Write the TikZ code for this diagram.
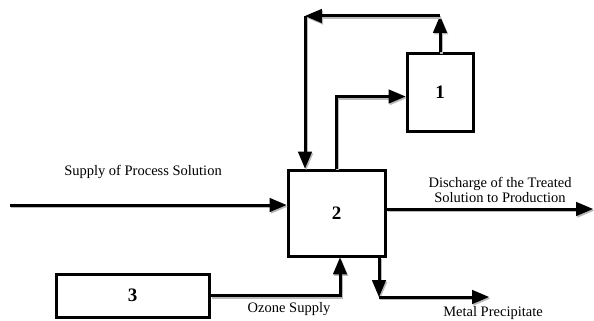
\documentclass[tikz,border=0pt]{standalone}
\usepackage{fontspec}
\setmainfont{Liberation Serif}
\usetikzlibrary{arrows,calc}

\begin{document}
\begin{tikzpicture}[x=1pt,y=-1pt,line width=3pt]

  \tikzstyle{unitnode}=[draw=black,shape=rectangle,font=\bfseries\fontsize{19}{21}\selectfont]
  \tikzstyle{flow}=[-triangle 45,preaction={draw=gray!55,transform canvas={xshift=1.2pt,yshift=-1.6pt}}]
  \tikzstyle{lbl}=[font=\fontsize{14.5}{16}\selectfont,align=center]

  \useasboundingbox (0,0) rectangle (594,321);

  \node[unitnode,minimum width=97pt,minimum height=86pt] (reactor) at (336.5,213) {2};
  \node[unitnode,minimum width=66pt,minimum height=77pt] (filter)  at (440,92.5)  {1};
  \node[unitnode,minimum width=153pt,minimum height=43pt] (ozonator) at (132.5,295.5) {3};

  \coordinate (inlet)   at (10,205);
  \coordinate (outlet)  at (593,209);
  \coordinate (topleft) at (305,16);
  \coordinate (topright) at (filter.north |- topleft);
  \coordinate (sludge)  at (379,297);
  \coordinate (sludgeend) at (489,297);

  % solution circuit
  \draw[flow] (inlet) -- (inlet -| reactor.west);
  \draw[flow] (reactor.east |- outlet) -- (outlet);
  \draw[flow] (reactor.north) |- ($(filter.west)+(0,4)$);
  \draw[flow] (filter.north) -- (topright);
  \draw[flow] (topright) -- (topleft);
  \draw[flow] (topleft) -- (topleft |- reactor.north);

  % ozone and precipitate
  \draw[flow] (ozonator.east) -| ($(reactor.south)+(3.5,0)$);
  \draw[flow] (reactor.south -| sludge) -- (sludge);
  \draw[flow] (sludge) -- (sludgeend);

  \node[lbl] (supplytext)  at (143,172) {Supply of Process Solution};
  \node[lbl] (dischtext)   at (500,190) {Discharge of the Treated\\[-1pt]Solution to Production};
  \node[lbl] (ozonetext)   at (289,309) {Ozone Supply};
  \node[lbl] (metaltext)   at (493,313) {Metal Precipitate};
\end{tikzpicture}
\end{document}
